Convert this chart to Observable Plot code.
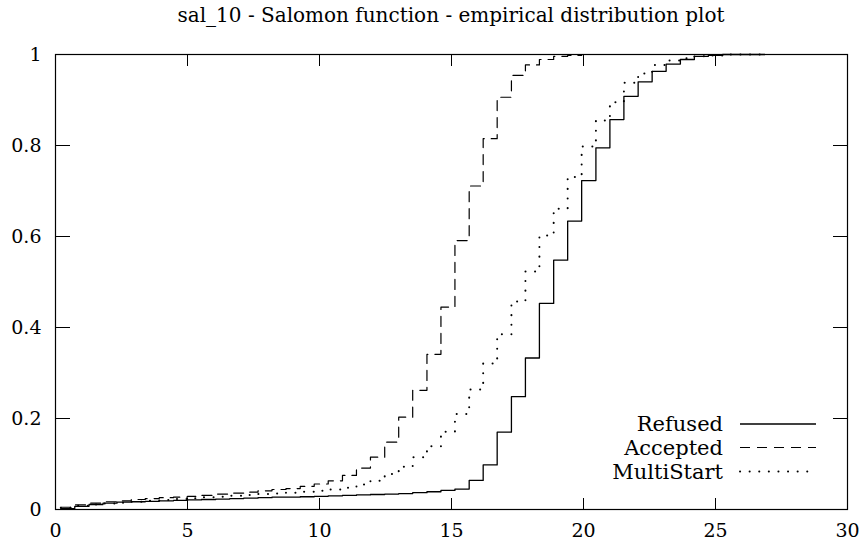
<!DOCTYPE html>
<html>
<head>
<meta charset="utf-8">
<script src="https://cdn.jsdelivr.net/npm/d3@7"></script>
<script src="https://cdn.jsdelivr.net/npm/@observablehq/plot@0.6"></script>
<style>
  html, body { margin: 0; padding: 0; background: #fff; }
  #title { width: 864px; height: 30px; box-sizing: border-box; padding-left: 38px; text-align: center;
           font-family: "DejaVu Serif", "Liberation Serif", serif; font-size: 20px; line-height: 30px; color: #000; }
  svg { display: block; }
</style>
</head>
<body>
<div id="title">sal_10 - Salomon function - empirical distribution plot</div>
<div id="chart"></div>
<script>
const titleText = "sal_10 - Salomon function - empirical distribution plot";
const seriesNames = ["Refused", "Accepted", "MultiStart"];
const xs = [0.2, 0.73, 1.27, 1.8, 2.33, 2.87, 3.4, 3.93, 4.47, 5.0, 5.53, 6.07, 6.6, 7.13, 7.67, 8.2, 8.73, 9.27, 9.8, 10.33,
  10.87, 11.4, 11.93, 12.47, 13.0, 13.53, 14.07, 14.6, 15.13, 15.67, 16.2, 16.73, 17.27, 17.8, 18.33, 18.87, 19.4, 19.93,
  20.47, 21.0, 21.53, 22.07, 22.6, 23.13, 23.67, 24.2, 24.73, 25.27, 25.8, 26.33, 26.87];
const refused = [0.002, 0.007, 0.011, 0.014, 0.016, 0.017, 0.018, 0.019, 0.020, 0.021, 0.022, 0.023, 0.024, 0.025, 0.026,
  0.027, 0.027, 0.028, 0.029, 0.030, 0.031, 0.032, 0.033, 0.034, 0.035, 0.037, 0.039, 0.042, 0.045, 0.064, 0.098, 0.170,
  0.248, 0.333, 0.453, 0.548, 0.634, 0.723, 0.795, 0.857, 0.908, 0.940, 0.963, 0.979, 0.989, 0.996, 0.998, 1, 1, 1, 1];
const accepted = [0.005, 0.010, 0.014, 0.017, 0.019, 0.022, 0.024, 0.026, 0.027, 0.029, 0.031, 0.034, 0.036, 0.038, 0.041,
  0.044, 0.046, 0.051, 0.056, 0.063, 0.075, 0.091, 0.115, 0.148, 0.203, 0.262, 0.341, 0.445, 0.591, 0.711, 0.815, 0.906,
  0.954, 0.977, 0.989, 0.996, 0.998, 1, 1, 1, 1, 1, 1, 1, 1, 1, 1, 1, 1, 1, 1];
const multistart = [0.004, 0.008, 0.011, 0.013, 0.015, 0.017, 0.019, 0.021, 0.023, 0.025, 0.027, 0.028, 0.030, 0.032, 0.034,
  0.035, 0.037, 0.039, 0.041, 0.044, 0.048, 0.055, 0.063, 0.078, 0.094, 0.115, 0.139, 0.171, 0.210, 0.264, 0.321, 0.385,
  0.457, 0.523, 0.602, 0.661, 0.731, 0.798, 0.855, 0.895, 0.938, 0.958, 0.977, 0.987, 0.992, 0.996, 0.998, 1, 1, 1, 1];
const xTicks = [0, 5, 10, 15, 20, 25, 30];
const yTicks = [0, 0.2, 0.4, 0.6, 0.8, 1];
const yTickLabels = ["0", "0.2", "0.4", "0.6", "0.8", "1"];

const styles = {
  Refused: {strokeWidth: 1.3},
  Accepted: {strokeWidth: 1.2, strokeDasharray: "10,7"},
  MultiStart: {strokeWidth: 2, strokeDasharray: "0.1,9.5", strokeLinecap: "round"}
};
const values = {Refused: refused, Accepted: accepted, MultiStart: multistart};
const rows = s => xs.map((x, i) => ({x, y: values[s][i], s}));

const font = "DejaVu Serif, Liberation Serif, serif";
const fs = 19;
const chart = Plot.plot({
  width: 864, height: 514,
  marginLeft: 55, marginRight: 17, marginTop: 24, marginBottom: 35,
  style: {fontFamily: font, fontSize: fs + "px", color: "#000", background: "#fff"},
  x: {domain: [0, 30]},
  y: {domain: [0, 1]},
  marks: [
    ...seriesNames.map(s => Plot.line(rows(s), {x: "x", y: "y", curve: "step-after", stroke: "black", ...styles[s]})),
    Plot.frame({stroke: "black", strokeWidth: 1.2}),
    Plot.axisX(xTicks, {anchor: "bottom", tickSize: 0, tickPadding: 14, label: null, fontSize: fs}),
    Plot.axisX(xTicks, {anchor: "bottom", tickSize: -11, tickFormat: () => "", label: null}),
    Plot.axisX(xTicks, {anchor: "top", tickSize: -11, tickFormat: () => "", label: null}),
    Plot.axisY(yTicks, {anchor: "left", tickSize: 0, tickPadding: 14, label: null, fontSize: fs,
      tickFormat: d => yTickLabels[yTicks.indexOf(d)]}),
    Plot.axisY(yTicks, {anchor: "left", tickSize: -15, tickFormat: () => "", label: null}),
    Plot.axisY(yTicks, {anchor: "right", tickSize: -15, tickFormat: () => "", label: null})
  ]
});
document.getElementById("chart").appendChild(chart);

// legend inside the plot area, bottom-right
const svg = d3.select(chart);
const lg = svg.append("g").attr("font-family", font).attr("font-size", 21);
const legendRows = [394, 417.5, 441.5];
seriesNames.forEach((s, i) => {
  const y = legendRows[i];
  lg.append("text").attr("x", 723).attr("y", y).attr("dy", "0.35em").attr("text-anchor", "end").text(s);
  const st = styles[s];
  lg.append("line").attr("x1", 740).attr("x2", 816).attr("y1", y).attr("y2", y)
    .attr("stroke", "black").attr("stroke-width", st.strokeWidth)
    .attr("stroke-dasharray", st.strokeDasharray || null)
    .attr("stroke-linecap", st.strokeLinecap || null);
});
</script>
</body>
</html>
